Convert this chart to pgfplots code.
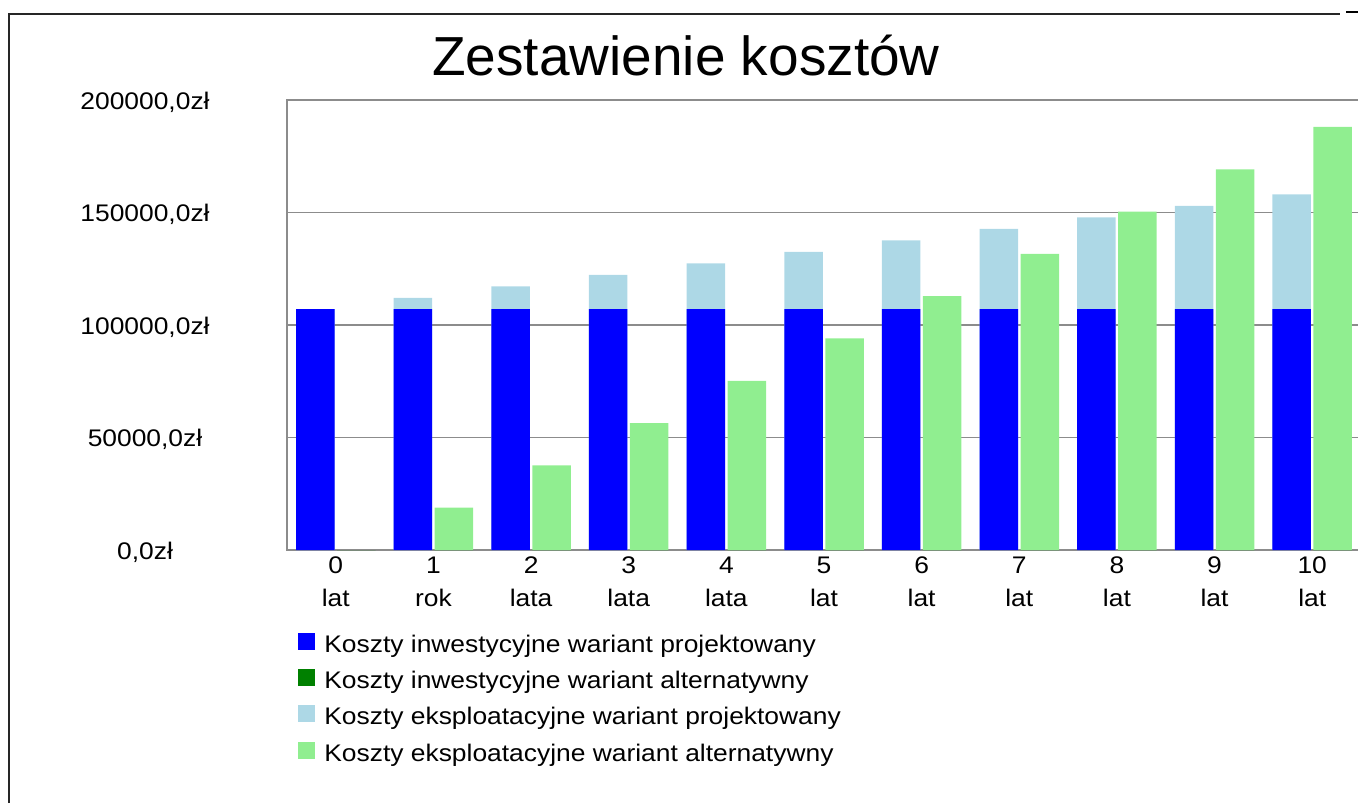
\documentclass[border=0pt]{standalone}
\usepackage{fontspec}
\setmainfont{Liberation Sans}
\newfontfamily\wide[FakeStretch=1.1]{Liberation Sans}
\usepackage{pgfplots}
\pgfplotsset{compat=1.18}
\definecolor{invproj}{HTML}{0000FF}
\definecolor{invalt}{HTML}{008000}
\definecolor{expproj}{HTML}{ADD8E6}
\definecolor{expalt}{HTML}{90EE90}
\definecolor{gridc}{HTML}{8C8C8C}
\begin{document}
\begin{tikzpicture}[x=1pt,y=1pt]
\useasboundingbox (0,0) rectangle (679,401.5);
\draw[line width=0.8pt, color=black!85] (4.5,0) -- (4.5,394.5) -- (670,394.5);
\draw[line width=1pt, color=black] (673,395.5) -- (679,395.5);
\begin{axis}[
  at={(143.5pt,126.5pt)}, anchor=south west,
  scale only axis, width=537pt, height=225pt,
  xmin=-0.5, xmax=10.5, ymin=0, ymax=200000,
  ybar, bar width=19.25pt,
  axis line style={draw=gridc, line width=0.75pt},
  ymajorgrids, grid style={draw=gridc, line width=0.75pt},
  major tick length=0pt,
  scaled y ticks=false,
  ytick={0,50000,100000,150000,200000},
  yticklabels={{0,0zł},{50000,0zł},{100000,0zł},{150000,0zł},{200000,0zł}},
  yticklabel style={anchor=center, xshift=-71pt, yshift=-1pt, font=\wide\fontsize{12}{14}\selectfont},
  xtick={0,1,2,3,4,5,6,7,8,9,10},
  xticklabels={{0\\lat},{1\\rok},{2\\lata},{3\\lata},{4\\lata},{5\\lat},{6\\lat},{7\\lat},{8\\lat},{9\\lat},{10\\lat}},
  xticklabel style={align=center, font=\wide\fontsize{12}{16.5}\selectfont, anchor=north, yshift=0pt},
  title={Zestawienie kosztów},
  title style={at={(0.3715,1.073)}, anchor=center, font=\fontsize{27.5}{32}\selectfont},
  legend style={at={(0.0102,-0.1827)}, anchor=north west, draw=none, fill=none, inner sep=0pt,
    font=\wide\fontsize{12}{14}\selectfont, row sep=5.9pt,
    nodes={inner sep=0pt, text height=9pt, text depth=2.5pt},
    /tikz/every odd column/.append style={column sep=4.5pt}},
  legend cell align=left,
  legend image code/.code={\fill[#1, draw=none] (0pt,-2pt) rectangle (8.5pt,6.5pt);},
]
% Koszty eksploatacyjne wariant projektowany (drawn as total, under investment)
\addplot[fill=expproj, draw=none, bar shift=-10.25pt, forget plot] coordinates {
(0,107000) (1,112100) (2,117200) (3,122300) (4,127400) (5,132500)
(6,137600) (7,142700) (8,147800) (9,152900) (10,158000)};
% Koszty inwestycyjne wariant projektowany
\addplot[fill=invproj, draw=none, bar shift=-10.25pt, forget plot] coordinates {
(0,107000) (1,107000) (2,107000) (3,107000) (4,107000) (5,107000)
(6,107000) (7,107000) (8,107000) (9,107000) (10,107000)};
% Koszty eksploatacyjne wariant alternatywny
\addplot[fill=expalt, draw=none, bar shift=10.25pt, forget plot] coordinates {
(1,18800) (2,37600) (3,56400) (4,75200) (5,94000)
(6,112800) (7,131600) (8,150400) (9,169200) (10,188000)};
% Koszty inwestycyjne wariant alternatywny
\addplot[fill=invalt, draw=none, bar shift=10.25pt, forget plot] coordinates {
(0,0) (1,0) (2,0) (3,0) (4,0) (5,0) (6,0) (7,0) (8,0) (9,0) (10,0)};
\addlegendimage{fill=invproj}
\addlegendentry{Koszty inwestycyjne wariant projektowany}
\addlegendimage{fill=invalt}
\addlegendentry{Koszty inwestycyjne wariant alternatywny}
\addlegendimage{fill=expproj}
\addlegendentry{Koszty eksploatacyjne wariant projektowany}
\addlegendimage{fill=expalt}
\addlegendentry{Koszty eksploatacyjne wariant alternatywny}
\end{axis}
\end{tikzpicture}
\end{document}
